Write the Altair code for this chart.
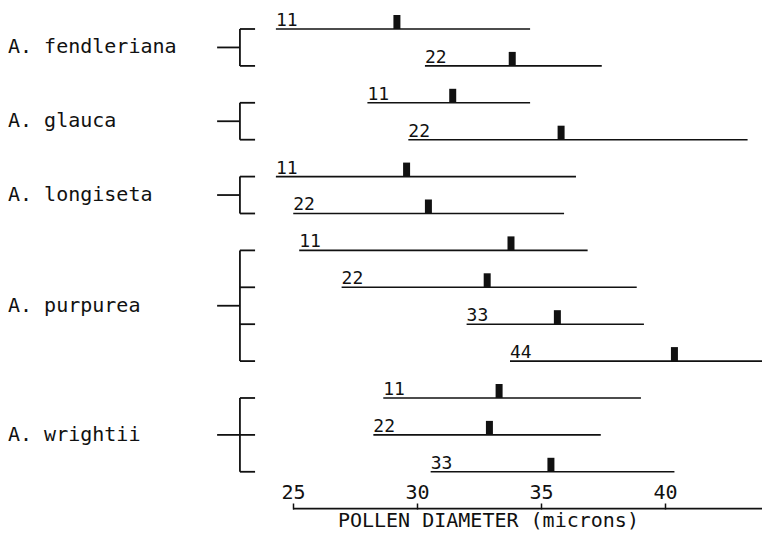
import altair as alt
import pandas as pd

# ---- data ----
SPECIES = ["A. fendleriana", "A. glauca", "A. longiseta", "A. purpurea", "A. wrightii"]
ROW_SPECIES = ["A. fendleriana", "A. fendleriana",
               "A. glauca", "A. glauca",
               "A. longiseta", "A. longiseta",
               "A. purpurea", "A. purpurea", "A. purpurea", "A. purpurea",
               "A. wrightii", "A. wrightii", "A. wrightii"]
PLOIDY = ["11", "22", "11", "22", "11", "22", "11", "22", "33", "44", "11", "22", "33"]
LOW = [24.31, 30.32, 28.00, 29.65, 24.31, 25.01, 25.25, 26.96, 32.00, 33.75, 28.64, 28.24, 30.55]
HIGH = [34.56, 37.45, 34.56, 43.33, 36.41, 35.93, 36.88, 38.86, 39.15, 44.23, 39.03, 37.41, 40.38]
MEAN = [29.19, 33.84, 31.44, 35.81, 29.58, 30.46, 33.79, 32.83, 35.66, 40.38, 33.31, 32.92, 35.40]
TICKS = [25, 30, 35, 40]
AXIS_TITLE = "POLLEN DIAMETER (microns)"

# ---- layout constants (data units) ----
X_DOMAIN = [13.508, 43.911]
Y_DOMAIN = [-0.569, 13.659]
BRACKET_X = 22.86
BRACKET_TICK_END = 23.47
STEM_START = 21.94
AXIS_ROW = 13.0
AXIS_END = 44.6
TITLE_X = 32.88
TITLE_ROW = 13.33
FONT = "DejaVu Sans Mono"
INK = "#111111"

rows = pd.DataFrame({
    "row": list(range(len(PLOIDY))),
    "species": ROW_SPECIES,
    "ploidy": PLOIDY,
    "low": LOW,
    "high": HIGH,
    "mean": MEAN,
})

grp = rows.groupby("species", sort=False)["row"].agg(["min", "max"]).reset_index()
grp["mid"] = (grp["min"] + grp["max"]) / 2
grp = grp.set_index("species").loc[SPECIES].reset_index()
grp["x_left"] = X_DOMAIN[0]
grp["bx"] = BRACKET_X
grp["bx_tick"] = BRACKET_TICK_END
grp["stem"] = STEM_START

brows = rows.copy()
brows["bx"] = BRACKET_X
brows["bx_tick"] = BRACKET_TICK_END

xscale = alt.Scale(domain=X_DOMAIN, nice=False, zero=False)
yscale = alt.Scale(domain=Y_DOMAIN, nice=False, zero=False, reverse=True)
xaxis = alt.Axis(orient="top", offset=-501, values=TICKS, domain=False, grid=False,
                 tickSize=6, tickWidth=1.5, tickColor=INK, labelFont=FONT, labelFontSize=20,
                 labelColor=INK, labelPadding=1, title=None)


def X(field):
    return alt.X(field, type="quantitative", scale=xscale, axis=xaxis)


def Y(field):
    return alt.Y(field, type="quantitative", scale=yscale, axis=None)


ranges = alt.Chart(rows).mark_rule(color=INK, strokeWidth=1.6, clip=True).encode(
    x=X("low"), x2="high", y=Y("row"))

means = alt.Chart(rows).mark_tick(color=INK, orient="vertical", thickness=7, size=14,
                                   yOffset=-7, opacity=1).encode(x=X("mean"), y=Y("row"))

plo = alt.Chart(rows).mark_text(align="left", baseline="alphabetic", dx=0, dy=-3,
                                font=FONT, fontSize=18, color=INK).encode(
    x=X("low"), y=Y("row"), text="ploidy")

bracket_v = alt.Chart(grp).mark_rule(color=INK, strokeWidth=1.8).encode(
    x=X("bx"), y=Y("min"), y2="max")
bracket_t = alt.Chart(brows).mark_rule(color=INK, strokeWidth=1.8).encode(
    x=X("bx"), x2="bx_tick", y=Y("row"))
stem = alt.Chart(grp).mark_rule(color=INK, strokeWidth=1.8).encode(
    x=X("stem"), x2="bx", y=Y("mid"))

names = alt.Chart(grp).mark_text(align="left", baseline="middle", dy=0,
                                 font=FONT, fontSize=20, color=INK).encode(
    x=X("x_left"), y=Y("mid"), text="species")

axis_line = alt.Chart(pd.DataFrame({"a": [TICKS[0]], "b": [AXIS_END], "r": [AXIS_ROW]})).mark_rule(
    color=INK, strokeWidth=1.8, clip=True).encode(x=X("a"), x2="b", y=Y("r"))

title = alt.Chart(pd.DataFrame({"x": [TITLE_X], "r": [TITLE_ROW], "t": [AXIS_TITLE]})).mark_text(
    align="center", baseline="middle", font=FONT, fontSize=20, color=INK).encode(
    x=X("x"), y=Y("r"), text="t")

chart = alt.layer(ranges, means, plo, bracket_v, bracket_t, stem, names, axis_line, title).properties(
    width=754, height=525, padding=0, autosize=alt.AutoSizeParams(type="none")
).configure(background="white", view=alt.ViewConfig(stroke=None))

chart.save("out.html", embed_options={"renderer": "svg", "actions": False})
